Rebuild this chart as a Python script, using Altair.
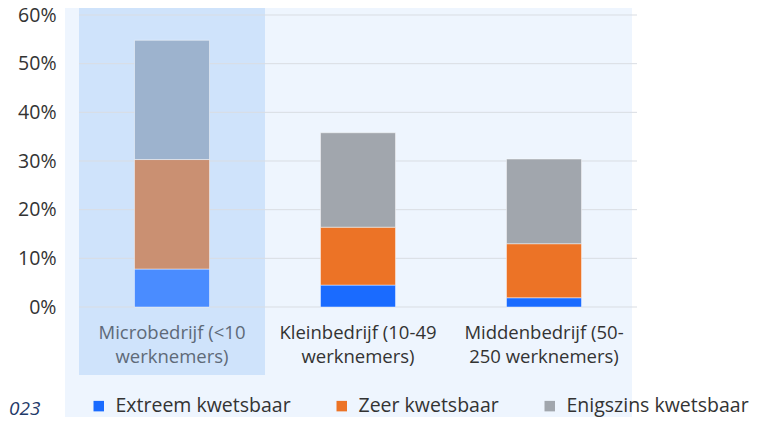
import altair as alt
import pandas as pd

categories = ["Microbedrijf (<10\nwerknemers)", "Kleinbedrijf (10-49\nwerknemers)", "Middenbedrijf (50-\n250 werknemers)"]
series = ["Extreem kwetsbaar", "Zeer kwetsbaar", "Enigszins kwetsbaar"]
extreem = [0.078, 0.045, 0.019]
zeer = [0.225, 0.119, 0.111]
enigszins = [0.245, 0.194, 0.174]
y_ticks = [0.0, 0.1, 0.2, 0.3, 0.4, 0.5, 0.6]
footnote = "023"

colors = ["#1a6bff", "#ec7326", "#a1a6ad"]
muted = ["#4a8cff", "#ca9072", "#9db3ce"]

rows = []
for ci, c in enumerate(categories):
    for si, (s, vals) in enumerate(zip(series, [extreem, zeer, enigszins])):
        rows.append({"cat": c, "serie": s, "waarde": vals[ci], "volg": si})
df = pd.DataFrame(rows)
grid_df = pd.DataFrame({"v": y_ticks})
hl_df = pd.DataFrame({"cat": [categories[0]]})

FONT = "Open Sans"
W, H = 558, 292

xscale = alt.Scale(domain=categories, paddingInner=0, paddingOuter=0)
yscale = alt.Scale(domain=[0, 0.6])

panel = alt.Chart(alt.Data(values=[{}])).mark_rect(color="#eef5fe").encode(
    x=alt.value(-14), x2=alt.value(553), y=alt.value(-7), y2=alt.value(420)
)

highlight = alt.Chart(hl_df).mark_rect(color="#cfe3fb").encode(
    x=alt.X("cat:N", scale=xscale, title=None,
            axis=alt.Axis(labelExpr="split(datum.label, '\\n')", labelAngle=0,
                          labelFont=FONT, labelFontSize=18.5, labelLineHeight=24,
                          labelPadding=16, ticks=False, domain=False, grid=False, labelLimit=300,
                          labelColor={"condition": {"test": "indexof(datum.value, 'Micro') == 0", "value": "#5e6a78"}, "value": "#333333"})),
    y=alt.value(-7), y2=alt.value(360)
)

grid = alt.Chart(grid_df).mark_rule(color="#d9dde3", strokeWidth=1).encode(
    y=alt.Y("v:Q", scale=yscale, title=None,
            axis=alt.Axis(values=y_ticks, format=".0%", labelFont=FONT, labelFontSize=19.5,
                          labelColor="#333333", labelPadding=23, ticks=False, domain=False, grid=False)),
    x=alt.value(0), x2=alt.value(W)
)

bars = alt.Chart(df).transform_filter(
    alt.datum.cat != categories[0]
).mark_bar(size=75, stroke="#ffffff", strokeOpacity=0.45, strokeWidth=1).encode(
    x=alt.X("cat:N", scale=xscale),
    y=alt.Y("waarde:Q", stack="zero", scale=yscale),
    color=alt.Color("serie:N", scale=alt.Scale(domain=series, range=colors),
                    legend=alt.Legend(orient="none", legendX=10, legendY=381, direction="horizontal",
                                      title=None, symbolType="square", symbolSize=110,
                                      symbolStrokeWidth=0, labelFont=FONT, labelFontSize=19.5,
                                      labelColor="#333333", columnPadding=41, labelOffset=7,
                                      labelLimit=400, padding=0)),
    order=alt.Order("volg:Q")
)

bars_micro = alt.Chart(df).transform_filter(
    alt.datum.cat == categories[0]
).mark_bar(size=75, stroke="#ffffff", strokeOpacity=0.45, strokeWidth=1).encode(
    x=alt.X("cat:N", scale=xscale),
    y=alt.Y("waarde:Q", stack="zero", scale=yscale),
    color=alt.Color("serie:N", scale=alt.Scale(domain=series, range=muted), legend=None),
    order=alt.Order("volg:Q")
)

note = alt.Chart(alt.Data(values=[{"t": footnote}])).mark_text(
    align="left", baseline="middle", font=FONT, fontSize=19, fontStyle="italic", color="#1f3a6a"
).encode(text="t:N", x=alt.value(-70), y=alt.value(394))

chart = alt.layer(panel, highlight, grid, bars, bars_micro, note).resolve_scale(
    color="independent"
).properties(
    width=W, height=H,
    padding={"left": 71, "top": 7, "right": 116, "bottom": 110},
    autosize=alt.AutoSizeParams(type="none"),
    background="#ffffff"
).configure_view(stroke=None)

chart.save("out.html", embed_options={"renderer": "svg", "actions": False})
